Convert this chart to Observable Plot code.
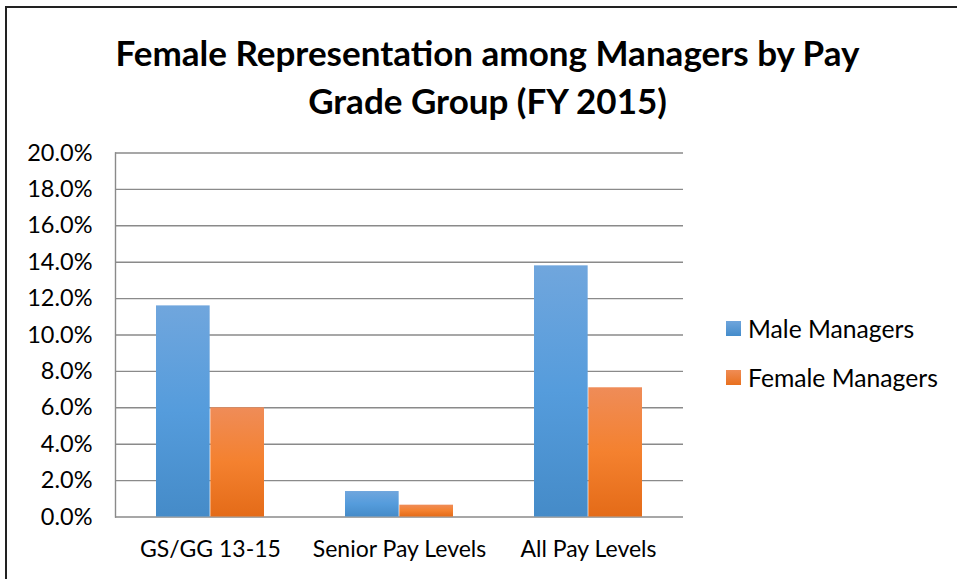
<!DOCTYPE html>
<html>
<head>
<meta charset="utf-8">
<script src="https://cdn.jsdelivr.net/npm/d3@7"></script>
<script src="https://cdn.jsdelivr.net/npm/@observablehq/plot@0.6"></script>
<style>
  body { margin: 0; background: #fff; font-family: Lato, "Open Sans", sans-serif; }
  #wrap { position: relative; width: 957px; height: 579px; overflow: hidden; }
  #border { position: absolute; left: 5px; top: 6px; right: -10px; bottom: -10px; border-left: 2px solid #222; border-top: 2px solid #222; }
  #title { position: absolute; left: 0; width: 975px; top: 28px; text-align: center; font-weight: bold; font-size: 35px; line-height: 48px; color: #000; }
  #chart { position: absolute; left: 0; top: 0; }
  .leg { position: absolute; left: 726px; font-size: 24.7px; color: #000; height: 26px; line-height: 26px; }
  .leg span.sw { position: absolute; left: 0; top: 5px; width: 15px; height: 15px; }
  .leg span.lb { position: absolute; left: 22px; top: 0; white-space: nowrap; }
</style>
</head>
<body>
<div id="wrap">
  <div id="border"></div>
  <div id="chart"></div>
  <div id="title">Female Representation among Managers by Pay<br>Grade Group (FY 2015)</div>
  <div class="leg" style="top:316px"><span class="sw" style="background:linear-gradient(#6fa5dc,#448ccb)"></span><span class="lb">Male Managers</span></div>
  <div class="leg" style="top:365px"><span class="sw" style="background:linear-gradient(#f08c55,#e8701e)"></span><span class="lb">Female Managers</span></div>
</div>
<script>
const categories = ["GS/GG 13-15", "Senior Pay Levels", "All Pay Levels"];
const seriesNames = ["Male Managers", "Female Managers"];
const maleValues = [11.6, 1.4, 13.8];
const femaleValues = [6.0, 0.65, 7.1];
const yTicks = [0, 2, 4, 6, 8, 10, 12, 14, 16, 18, 20];

const maleData = categories.map((c, i) => ({category: c, series: seriesNames[0], value: maleValues[i]}));
const femaleData = categories.map((c, i) => ({category: c, series: seriesNames[1], value: femaleValues[i]}));

const bandStep = (683 - 115) / 3;
const halfBar = bandStep * 0.574 / 2;

const plot = Plot.plot({
  width: 957,
  height: 579,
  marginLeft: 115,
  marginRight: 274,
  marginTop: 152.5,
  marginBottom: 62.5,
  style: {fontFamily: "Lato, sans-serif", background: "transparent", color: "#000"},
  x: {domain: categories, paddingInner: 0.426, paddingOuter: 0.213, label: null},
  y: {domain: [0, 20], label: null},
  color: {domain: seriesNames, range: ["url(#gradBlue)", "url(#gradOrange)"]},
  marks: [
    Plot.ruleY(yTicks, {stroke: "#8a8a8a", strokeWidth: 1.4}),
    Plot.frame({anchor: "left", stroke: "#8a8a8a", strokeWidth: 1.4}),
    Plot.barY(maleData, {x: "category", y: "value", fill: "series", insetRight: halfBar}),
    Plot.barY(femaleData, {x: "category", y: "value", fill: "series", insetLeft: halfBar}),
    Plot.axisY({ticks: yTicks, tickSize: 0, tickPadding: 23, tickFormat: d => d.toFixed(1) + "%", fontSize: 23.5, fill: "#000"}),
    Plot.axisX({tickSize: 0, tickPadding: 24, fontSize: 23, fill: "#000"})
  ]
});

const defs = d3.select(plot).insert("defs", ":first-child");
const gb = defs.append("linearGradient").attr("id", "gradBlue").attr("x1", 0).attr("y1", 0).attr("x2", 0).attr("y2", 1);
gb.append("stop").attr("offset", "0%").attr("stop-color", "#70a6dd");
gb.append("stop").attr("offset", "50%").attr("stop-color", "#559cdc");
gb.append("stop").attr("offset", "100%").attr("stop-color", "#458bc8");
const go = defs.append("linearGradient").attr("id", "gradOrange").attr("x1", 0).attr("y1", 0).attr("x2", 0).attr("y2", 1);
go.append("stop").attr("offset", "0%").attr("stop-color", "#ef8c58");
go.append("stop").attr("offset", "50%").attr("stop-color", "#f4812f");
go.append("stop").attr("offset", "100%").attr("stop-color", "#e46b18");

document.getElementById("chart").appendChild(plot);
</script>
</body>
</html>
